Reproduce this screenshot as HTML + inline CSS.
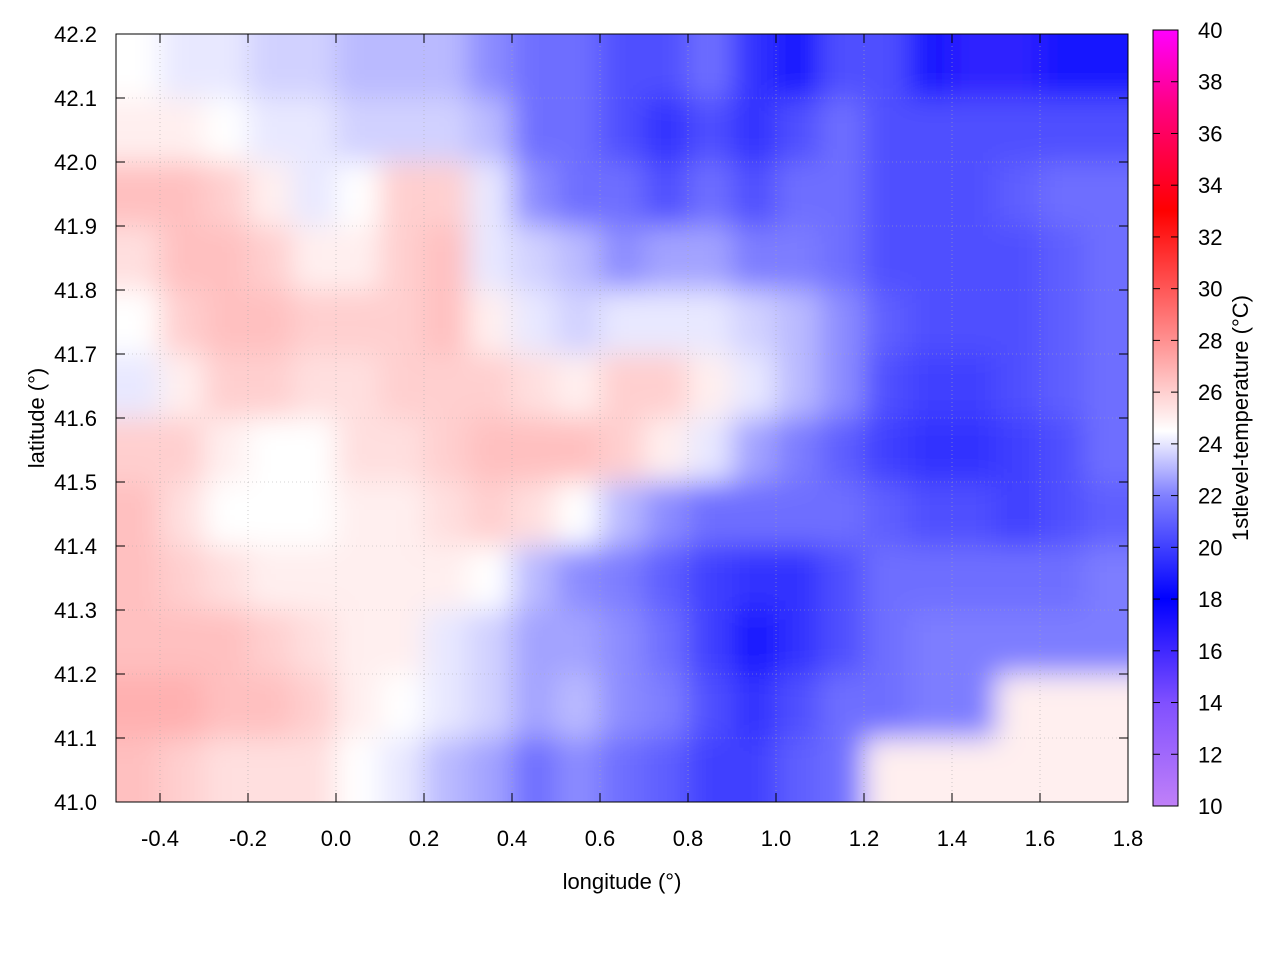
<!DOCTYPE html>
<html><head><meta charset="utf-8"><style>
body{margin:0;background:#fff;}
svg text{font-family:"Liberation Sans",sans-serif;font-size:22px;fill:#000;}
</style></head><body>
<svg id="chart" width="1280" height="960" viewBox="0 0 1280 960">
<defs>
<clipPath id="plotclip"><rect x="116" y="34" width="1012" height="768"/></clipPath>
<filter id="blur" x="-5%" y="-5%" width="110%" height="110%"><feGaussianBlur stdDeviation="14"/></filter>
<linearGradient id="cbgrad" x1="0" y1="1" x2="0" y2="0">
<stop offset="0" stop-color="#c080f8"/>
<stop offset="0.133" stop-color="#8050ff"/>
<stop offset="0.267" stop-color="#0000ff"/>
<stop offset="0.4" stop-color="#8080ff"/>
<stop offset="0.483" stop-color="#ffffff"/>
<stop offset="0.6" stop-color="#ff9090"/>
<stop offset="0.767" stop-color="#ff0000"/>
<stop offset="0.9" stop-color="#ff0080"/>
<stop offset="1" stop-color="#ff00ff"/>
</linearGradient>
</defs>
<g id="heat" clip-path="url(#plotclip)"><rect x="116" y="34" width="1012" height="768" fill="#e0e0ff"/><g id="cells" filter="url(#blur)"></g></g>
<g id="grid"></g>
<rect x="116" y="34" width="1012" height="768" fill="none" stroke="#000" stroke-width="1"/>
<g id="axes"></g>
<rect x="1153" y="30" width="25" height="776" fill="url(#cbgrad)" stroke="#000" stroke-width="1"/>
<g id="cbticks"></g>
<text x="622" y="889" text-anchor="middle">longitude (°)</text>
<text transform="translate(44,418) rotate(-90)" text-anchor="middle">latitude (°)</text>
<text transform="translate(1248,418) rotate(-90)" text-anchor="middle">1stlevel-temperature (°C)</text>
</svg>
<script>
const lons = [-0.45,-0.35,-0.25,-0.15,-0.05,0.05,0.15,0.25,0.35,0.45,0.55,0.65,0.75,0.85,0.95,1.05,1.15,1.25,1.35,1.45,1.55,1.65,1.75];
const lats = [42.15,42.05,41.95,41.85,41.75,41.65,41.55,41.45,41.35,41.25,41.15,41.05];
const temps = [
[24.5,24,24,23.5,23.5,23,23,23,22,21,21,20,20,21,19,18,20,20,18,17,17,18,18],
[25,25,24.5,24,24,23.5,23.5,23.5,23,21,21,20,19,20,19,20,21,20,20,20,20,20,20],
[26.5,26.5,26,25,24,24.5,26,26,24,22,21,21,20,21,20,21,21,20,20,20,20.5,21,21],
[25.5,26.5,26.5,26,25,25,26,26.5,24,23.5,23,22,22.5,22.5,21.5,21.5,21,20,20,20,20,20.5,21],
[24.5,26,26.5,26.5,26,26,26,26.5,25,24,23.5,24,24,24,23.5,23,22,20.5,20,20,20,20.5,21],
[24,25,26,26,25.5,25.5,26,26,26,25.5,25,26,26,25,24,23,22,20,19.5,19.5,20,20.5,21],
[26,26,25,24.5,24.5,25.5,25.5,26,26.5,26.5,26.5,26,25,24,22.5,21.5,20.5,19.5,19,19,19.5,20,21],
[26.5,25.5,24.5,24.5,24.5,25,25,25.5,26,25.5,24.5,23,22,21,21,21,21,20.5,20,20,19.5,20,20.5],
[26.5,26,25.5,25,25,25,25,25,24.5,23,22,21.5,20.5,19.5,19,19,20,21,21,21,21,21,21.5],
[26.5,26.5,26.5,26,25.5,25,25,24,23.5,22.5,22.5,22,21,19.5,18,19,20,21,21.5,21.5,21.5,21.5,21.5],
[27,27,26.5,26.5,26,25,24.5,24,23.5,22.5,23,22,21.5,20,19,20,21,21,21.5,21.5,25,25,25],
[26.5,26,25.5,25.5,25.5,24.5,24,23,22.5,21,22,21,20.5,19.5,19.5,20.5,21,25,25,25,25,25,25]
];
const xTicks = [-0.4,-0.2,0.0,0.2,0.4,0.6,0.8,1.0,1.2,1.4,1.6,1.8];
const yTicks = [41.0,41.1,41.2,41.3,41.4,41.5,41.6,41.7,41.8,41.9,42.0,42.1,42.2];
const cbTicks = [10,12,14,16,18,20,22,24,26,28,30,32,34,36,38,40];

const NS='http://www.w3.org/2000/svg';
const X = lon => 116 + (lon + 0.5) * 440;
const Y = lat => 34 + (42.2 - lat) * 640;
const CB = v => 806 - (v - 10) * (776 / 30);
const stops = [[10,[192,128,248]],[14,[128,80,255]],[18,[20,20,255]],[22,[140,140,255]],[24.5,[255,255,255]],[28,[255,144,144]],[33,[255,0,0]],[37,[255,0,128]],[40,[255,0,255]]];
function color(v){
  for(let i=0;i<stops.length-1;i++){
    const [a,ca]=stops[i],[b,cb]=stops[i+1];
    if(v<=b){const t=Math.max(0,(v-a)/(b-a));return 'rgb('+ca.map((c,k)=>Math.round(c+(cb[k]-c)*t)).join(',')+')';}
  }
  return 'rgb(255,0,255)';
}
function mk(tag,attrs,parent){const e=document.createElementNS(NS,tag);for(const k in attrs)e.setAttribute(k,attrs[k]);parent.appendChild(e);return e;}
const cells=document.getElementById('cells');
const dx=44, dy=64;
lats.forEach((lat,r)=>{lons.forEach((lon,c)=>{
  let x=X(lon)-dx/2, y=Y(lat)-dy/2, w=dx+1, h=dy+1;
  if(c===0){x-=40;w+=40;} if(c===lons.length-1){w+=40;}
  if(r===0){y-=40;h+=40;} if(r===lats.length-1){h+=40;}
  const el=mk('rect',{x:x,y:y,width:w,height:h,fill:color(temps[r][c])},cells);
  
  
});});
const grid=document.getElementById('grid'), axes=document.getElementById('axes');
xTicks.forEach(t=>{
  const x=X(t);
  mk('line',{x1:x,y1:34,x2:x,y2:802,stroke:'#aaa','stroke-width':0.6,'stroke-dasharray':'1,3'},grid);
  mk('line',{x1:x,y1:802,x2:x,y2:793,stroke:'#000'},axes);
  mk('line',{x1:x,y1:34,x2:x,y2:43,stroke:'#000'},axes);
  const tx=mk('text',{x:x,y:846,'text-anchor':'middle'},axes);
  tx.textContent=t.toFixed(1);
  
  
});
yTicks.forEach(t=>{
  const y=Y(t);
  mk('line',{x1:116,y1:y,x2:1128,y2:y,stroke:'#aaa','stroke-width':0.6,'stroke-dasharray':'1,3'},grid);
  mk('line',{x1:116,y1:y,x2:125,y2:y,stroke:'#000'},axes);
  mk('line',{x1:1128,y1:y,x2:1119,y2:y,stroke:'#000'},axes);
  const ty=mk('text',{x:97,y:y+8,'text-anchor':'end'},axes);
  ty.textContent=t.toFixed(1);
  
  
});
const cbg=document.getElementById('cbticks');
cbTicks.forEach(v=>{
  const y=CB(v);
  mk('line',{x1:1153,y1:y,x2:1160,y2:y,stroke:'#000'},cbg);
  mk('line',{x1:1178,y1:y,x2:1171,y2:y,stroke:'#000'},cbg);
  const t=mk('text',{x:1198,y:y+8},cbg);
  t.textContent=v;
  
  
});
</script>
</body></html>
